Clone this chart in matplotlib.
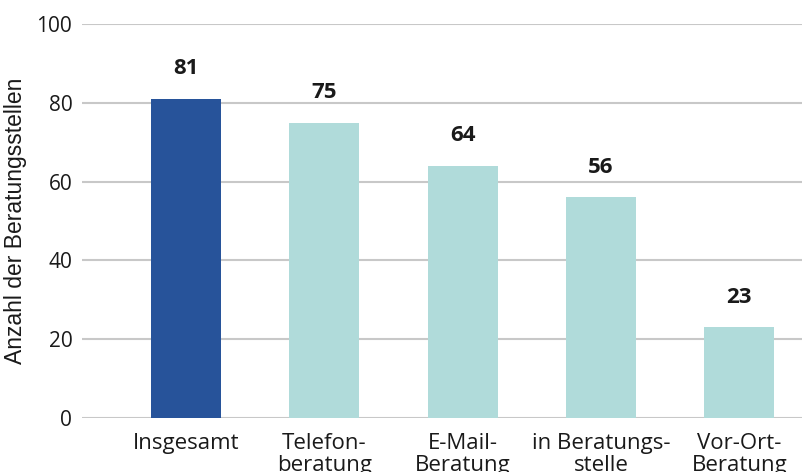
import matplotlib.pyplot as plt

# Data
categories = ['Insgesamt', 'Telefon-\nberatung', 'E-Mail-\nBeratung',
              'in Beratungs-\nstelle', 'Vor-Ort-\nBeratung']
values = [81, 75, 64, 56, 23]
bar_colors = ['#27539a', '#b0dbda', '#b0dbda', '#b0dbda', '#b0dbda']
y_ticks = [0, 20, 40, 60, 80, 100]

plt.rcParams['font.family'] = ['Open Sans', 'DejaVu Sans']

fig = plt.figure(figsize=(8.03, 4.72), dpi=100)
ax = fig.add_axes([82 / 803, 54 / 472, 1 - 82 / 803, 394 / 472])

x = range(len(categories))
bars = ax.bar(x, values, width=0.505, color=bar_colors, zorder=3)

for rect, v in zip(bars, values):
    ax.annotate(str(v), (rect.get_x() + rect.get_width() / 2, v),
                xytext=(0, 14), textcoords='offset points',
                ha='center', va='bottom', fontsize=16, fontweight='bold',
                color='#1a1a1a')

ax.set_ylim(0, 100)
ax.set_xlim(-0.75, 4.46)
ax.set_yticks(y_ticks)
ax.set_xticks(list(x))
ax.set_xticklabels(categories, fontsize=16, linespacing=1.05, va='top')
ax.tick_params(axis='y', length=0, pad=7, labelsize=15, colors='#1a1a1a')
ax.tick_params(axis='x', length=0, pad=11, colors='#1a1a1a')
ax.grid(axis='y', color='#c8c8c8', linewidth=1.5, zorder=0)
for s in ax.spines.values():
    s.set_visible(False)

ax.set_ylabel('Anzahl der Beratungsstellen', fontsize=16.5, color='#1a1a1a',
              family=['Liberation Sans', 'DejaVu Sans'], labelpad=7)

fig.savefig('out.png', dpi=100)
